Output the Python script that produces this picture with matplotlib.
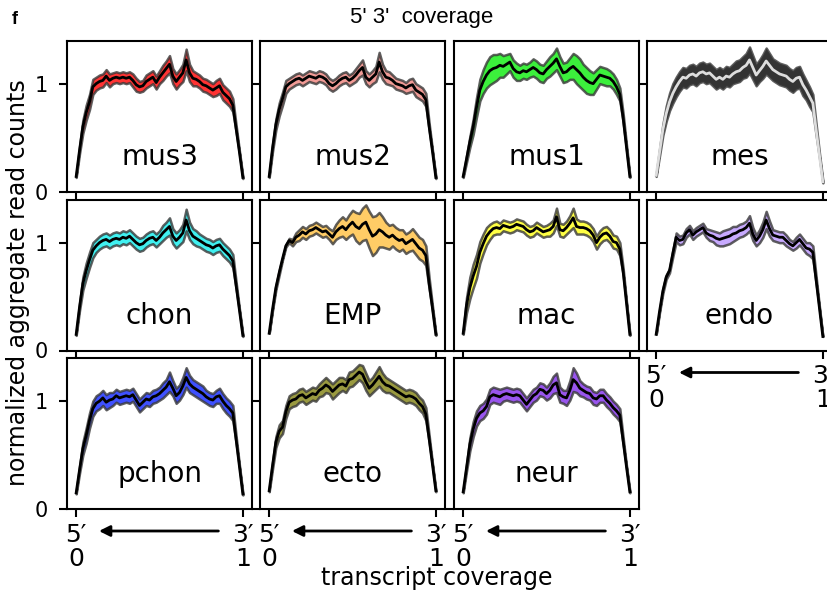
import numpy as np
import matplotlib.pyplot as plt

# gene body coverage, 51 bins from 5' (0) to 3' (1); mean and half width of band
bins = np.linspace(0, 1, 51)

mus3_mean = [0.14, 0.38, 0.60, 0.73, 0.83, 0.97, 1.00, 1.02, 1.03, 1.07,
             1.03, 1.05, 1.06, 1.05, 1.06, 1.05, 1.06, 1.03, 0.99, 0.97,
             0.98, 1.02, 1.04, 1.06, 1.01, 1.06, 1.10, 1.14, 1.18, 1.07,
             1.02, 1.06, 1.10, 1.22, 1.10, 1.05, 1.04, 1.02, 0.99, 0.98,
             0.96, 0.94, 0.96, 0.98, 0.92, 0.89, 0.86, 0.80, 0.58, 0.36, 0.13]
mus3_band = [0.01, 0.03, 0.06, 0.07, 0.07, 0.07, 0.06, 0.06, 0.06, 0.06,
             0.06, 0.05, 0.05, 0.05, 0.05, 0.05, 0.05, 0.06, 0.06, 0.05,
             0.05, 0.06, 0.06, 0.06, 0.06, 0.06, 0.07, 0.07, 0.08, 0.07,
             0.07, 0.07, 0.08, 0.10, 0.08, 0.07, 0.06, 0.06, 0.06, 0.06,
             0.06, 0.06, 0.07, 0.07, 0.07, 0.07, 0.07, 0.06, 0.03, 0.01, 0.01]

mus2_mean = [0.14, 0.40, 0.62, 0.76, 0.86, 0.97, 1.00, 1.02, 1.04, 1.05,
             1.03, 1.05, 1.07, 1.06, 1.05, 1.07, 1.06, 1.04, 1.00, 0.98,
             1.00, 1.03, 1.05, 1.06, 1.03, 1.05, 1.08, 1.12, 1.15, 1.06,
             1.03, 1.06, 1.09, 1.20, 1.11, 1.06, 1.05, 1.03, 1.00, 0.99,
             0.98, 0.96, 0.98, 0.99, 0.94, 0.92, 0.90, 0.85, 0.60, 0.37, 0.13]
mus2_band = [0.01, 0.03, 0.05, 0.06, 0.06, 0.06, 0.05, 0.05, 0.05, 0.05,
             0.05, 0.05, 0.05, 0.05, 0.05, 0.05, 0.05, 0.05, 0.05, 0.05,
             0.05, 0.05, 0.05, 0.05, 0.05, 0.05, 0.06, 0.06, 0.07, 0.06,
             0.06, 0.06, 0.07, 0.09, 0.07, 0.06, 0.06, 0.05, 0.05, 0.05,
             0.05, 0.05, 0.06, 0.06, 0.06, 0.06, 0.06, 0.06, 0.03, 0.01, 0.01]

mus1_mean = [0.14, 0.30, 0.46, 0.60, 0.78, 0.94, 1.02, 1.08, 1.12, 1.14,
             1.15, 1.17, 1.16, 1.18, 1.20, 1.14, 1.11, 1.10, 1.12, 1.11,
             1.13, 1.15, 1.13, 1.10, 1.09, 1.13, 1.16, 1.19, 1.23, 1.16,
             1.10, 1.11, 1.14, 1.16, 1.13, 1.10, 1.06, 1.03, 1.01, 1.00,
             1.04, 1.08, 1.07, 1.06, 1.05, 1.02, 0.97, 0.90, 0.68, 0.41, 0.14]
mus1_band = [0.01, 0.03, 0.05, 0.07, 0.09, 0.10, 0.11, 0.12, 0.13, 0.13,
             0.12, 0.11, 0.10, 0.09, 0.08, 0.08, 0.08, 0.07, 0.07, 0.07,
             0.07, 0.08, 0.08, 0.08, 0.08, 0.08, 0.09, 0.09, 0.10, 0.09,
             0.09, 0.09, 0.10, 0.12, 0.13, 0.13, 0.12, 0.12, 0.11, 0.10,
             0.09, 0.08, 0.08, 0.08, 0.07, 0.07, 0.07, 0.06, 0.04, 0.02, 0.01]

mes_mean = [0.15, 0.36, 0.57, 0.72, 0.83, 0.91, 0.97, 1.02, 1.06, 1.05,
            1.08, 1.09, 1.07, 1.10, 1.11, 1.09, 1.10, 1.07, 1.04, 1.06,
            1.04, 1.07, 1.06, 1.09, 1.11, 1.12, 1.15, 1.17, 1.22, 1.15,
            1.08, 1.12, 1.16, 1.21, 1.17, 1.13, 1.11, 1.09, 1.08, 1.07,
            1.04, 1.02, 1.05, 1.06, 0.99, 0.94, 0.88, 0.82, 0.57, 0.33, 0.09]
mes_band = [0.01, 0.03, 0.05, 0.07, 0.08, 0.09, 0.09, 0.09, 0.09, 0.09,
            0.09, 0.09, 0.09, 0.09, 0.09, 0.09, 0.09, 0.09, 0.09, 0.09,
            0.09, 0.09, 0.09, 0.09, 0.10, 0.10, 0.10, 0.11, 0.12, 0.11,
            0.10, 0.10, 0.11, 0.12, 0.11, 0.10, 0.10, 0.10, 0.10, 0.10,
            0.10, 0.10, 0.10, 0.10, 0.10, 0.09, 0.09, 0.08, 0.05, 0.02, 0.01]

chon_mean = [0.15, 0.40, 0.62, 0.74, 0.84, 0.93, 0.97, 1.00, 1.02, 1.03,
             1.01, 1.03, 1.04, 1.03, 1.05, 1.04, 1.06, 1.03, 1.00, 0.98,
             0.99, 1.02, 1.04, 1.05, 1.02, 1.05, 1.09, 1.12, 1.15, 1.06,
             1.02, 1.05, 1.09, 1.21, 1.11, 1.06, 1.04, 1.02, 1.00, 0.98,
             0.97, 0.95, 0.97, 0.98, 0.94, 0.91, 0.88, 0.83, 0.60, 0.37, 0.14]
chon_band = [0.01, 0.03, 0.06, 0.07, 0.07, 0.07, 0.06, 0.06, 0.06, 0.06,
             0.06, 0.06, 0.06, 0.06, 0.06, 0.06, 0.06, 0.06, 0.06, 0.06,
             0.06, 0.06, 0.06, 0.06, 0.06, 0.06, 0.07, 0.07, 0.08, 0.07,
             0.07, 0.07, 0.08, 0.10, 0.08, 0.07, 0.07, 0.06, 0.06, 0.06,
             0.06, 0.06, 0.06, 0.06, 0.06, 0.06, 0.06, 0.06, 0.03, 0.01, 0.01]

emp_mean = [0.16, 0.38, 0.58, 0.72, 0.85, 0.97, 1.02, 1.00, 1.05, 1.07,
            1.10, 1.08, 1.11, 1.12, 1.14, 1.12, 1.10, 1.11, 1.08, 1.05,
            1.10, 1.13, 1.15, 1.12, 1.16, 1.19, 1.15, 1.13, 1.17, 1.19,
            1.12, 1.06, 1.08, 1.12, 1.10, 1.07, 1.05, 1.07, 1.04, 1.02,
            1.03, 0.99, 1.01, 1.03, 0.99, 0.95, 0.93, 0.88, 0.62, 0.39, 0.15]
emp_band = [0.00, 0.01, 0.02, 0.02, 0.01, 0.01, 0.02, 0.03, 0.04, 0.05,
            0.05, 0.05, 0.05, 0.05, 0.05, 0.05, 0.05, 0.05, 0.05, 0.06,
            0.07, 0.08, 0.09, 0.09, 0.10, 0.11, 0.13, 0.14, 0.15, 0.16,
            0.17, 0.18, 0.17, 0.16, 0.14, 0.12, 0.11, 0.10, 0.10, 0.10,
            0.09, 0.09, 0.09, 0.10, 0.10, 0.10, 0.10, 0.09, 0.05, 0.02, 0.01]

mac_mean = [0.16, 0.42, 0.58, 0.69, 0.78, 0.91, 0.99, 1.06, 1.10, 1.13,
            1.14, 1.13, 1.16, 1.15, 1.14, 1.15, 1.17, 1.16, 1.15, 1.12,
            1.10, 1.11, 1.14, 1.12, 1.10, 1.11, 1.12, 1.15, 1.24, 1.12,
            1.11, 1.14, 1.18, 1.23, 1.15, 1.14, 1.14, 1.13, 1.11, 1.07,
            1.00, 1.05, 1.08, 1.09, 1.06, 1.01, 1.00, 0.94, 0.73, 0.44, 0.15]
mac_band = [0.01, 0.07, 0.10, 0.11, 0.11, 0.10, 0.09, 0.08, 0.07, 0.06,
            0.06, 0.05, 0.05, 0.05, 0.05, 0.05, 0.05, 0.05, 0.05, 0.05,
            0.05, 0.05, 0.05, 0.05, 0.05, 0.05, 0.06, 0.06, 0.08, 0.06,
            0.06, 0.06, 0.07, 0.09, 0.07, 0.06, 0.06, 0.06, 0.06, 0.06,
            0.06, 0.06, 0.06, 0.06, 0.06, 0.06, 0.06, 0.06, 0.03, 0.01, 0.01]

endo_mean = [0.15, 0.36, 0.55, 0.68, 0.74, 0.90, 1.05, 1.02, 1.03, 1.09,
             1.12, 1.07, 1.10, 1.12, 1.14, 1.09, 1.07, 1.06, 1.04, 1.03,
             1.04, 1.05, 1.06, 1.08, 1.09, 1.11, 1.12, 1.14, 1.18, 1.08,
             1.02, 1.06, 1.12, 1.21, 1.13, 1.07, 1.06, 1.05, 1.05, 1.02,
             0.99, 0.97, 1.00, 1.03, 0.99, 0.95, 0.94, 0.91, 0.65, 0.39, 0.13]
endo_band = [0.00, 0.01, 0.02, 0.02, 0.02, 0.03, 0.04, 0.04, 0.04, 0.04,
             0.04, 0.04, 0.04, 0.04, 0.04, 0.04, 0.05, 0.05, 0.06, 0.06,
             0.07, 0.07, 0.07, 0.07, 0.06, 0.06, 0.06, 0.06, 0.07, 0.06,
             0.05, 0.06, 0.07, 0.08, 0.07, 0.05, 0.05, 0.05, 0.05, 0.05,
             0.04, 0.04, 0.05, 0.05, 0.05, 0.05, 0.06, 0.06, 0.03, 0.01, 0.00]

pchon_mean = [0.15, 0.36, 0.56, 0.68, 0.82, 0.93, 0.98, 1.00, 1.03, 0.99,
              1.01, 1.02, 1.05, 1.03, 1.04, 1.05, 1.04, 1.06, 1.01, 0.96,
              0.99, 1.02, 1.01, 1.04, 1.05, 1.07, 1.10, 1.13, 1.18, 1.12,
              1.05, 1.08, 1.14, 1.22, 1.16, 1.13, 1.11, 1.09, 1.07, 1.04,
              1.02, 1.01, 1.04, 1.05, 1.00, 0.96, 0.93, 0.89, 0.64, 0.39, 0.14]
pchon_band = [0.01, 0.03, 0.06, 0.07, 0.07, 0.07, 0.07, 0.07, 0.07, 0.07,
              0.07, 0.06, 0.06, 0.06, 0.06, 0.06, 0.06, 0.06, 0.06, 0.06,
              0.06, 0.06, 0.06, 0.06, 0.06, 0.06, 0.07, 0.07, 0.09, 0.07,
              0.07, 0.07, 0.08, 0.09, 0.08, 0.07, 0.07, 0.07, 0.07, 0.06,
              0.06, 0.06, 0.06, 0.07, 0.07, 0.07, 0.07, 0.07, 0.03, 0.01, 0.01]

ecto_mean = [0.17, 0.40, 0.62, 0.72, 0.76, 0.90, 0.99, 1.01, 1.02, 1.05,
             1.06, 1.03, 1.05, 1.07, 1.06, 1.10, 1.12, 1.15, 1.13, 1.09,
             1.12, 1.15, 1.16, 1.14, 1.20, 1.21, 1.24, 1.27, 1.25, 1.18,
             1.12, 1.15, 1.19, 1.23, 1.18, 1.15, 1.14, 1.12, 1.10, 1.08,
             1.06, 1.04, 1.05, 1.04, 1.02, 0.98, 0.95, 0.88, 0.65, 0.41, 0.17]
ecto_band = [0.01, 0.03, 0.05, 0.06, 0.06, 0.06, 0.06, 0.06, 0.06, 0.06,
             0.06, 0.06, 0.06, 0.06, 0.06, 0.06, 0.07, 0.07, 0.06, 0.07,
             0.07, 0.07, 0.06, 0.06, 0.07, 0.07, 0.07, 0.07, 0.08, 0.08,
             0.07, 0.07, 0.08, 0.09, 0.08, 0.07, 0.06, 0.06, 0.06, 0.06,
             0.06, 0.06, 0.06, 0.06, 0.06, 0.06, 0.06, 0.06, 0.03, 0.01, 0.01]

neur_mean = [0.16, 0.38, 0.60, 0.74, 0.84, 0.89, 0.91, 0.95, 1.04, 1.06,
             1.05, 1.04, 1.06, 1.07, 1.06, 1.05, 1.06, 1.05, 1.01, 0.97,
             1.01, 1.05, 1.07, 1.11, 1.10, 1.07, 1.10, 1.15, 1.17, 1.06,
             1.04, 1.03, 1.10, 1.20, 1.17, 1.12, 1.10, 1.08, 1.07, 1.03,
             1.02, 1.05, 1.05, 1.01, 0.98, 0.94, 0.91, 0.87, 0.63, 0.39, 0.16]
neur_band = [0.01, 0.03, 0.06, 0.07, 0.07, 0.07, 0.07, 0.07, 0.07, 0.07,
             0.07, 0.07, 0.06, 0.06, 0.06, 0.06, 0.06, 0.06, 0.06, 0.06,
             0.06, 0.06, 0.06, 0.06, 0.06, 0.06, 0.07, 0.08, 0.09, 0.07,
             0.06, 0.07, 0.09, 0.11, 0.09, 0.07, 0.06, 0.06, 0.06, 0.06,
             0.06, 0.06, 0.06, 0.06, 0.06, 0.06, 0.06, 0.06, 0.03, 0.01, 0.01]

names = ['mus3', 'mus2', 'mus1', 'mes', 'chon', 'EMP', 'mac', 'endo', 'pchon', 'ecto', 'neur']
means = [mus3_mean, mus2_mean, mus1_mean, mes_mean, chon_mean, emp_mean,
         mac_mean, endo_mean, pchon_mean, ecto_mean, neur_mean]
bands = [mus3_band, mus2_band, mus1_band, mes_band, chon_band, emp_band,
         mac_band, endo_band, pchon_band, ecto_band, neur_band]
fill_colors = ['#ff3333', '#f29b96', '#3cf03c', '#333333', '#40f0f0', '#ffcc66',
               '#ffff44', '#c8aaff', '#3f51ff', '#9a9a40', '#9955ee']
line_colors = ['k', 'k', 'k', '#dddddd', 'k', 'k', 'k', 'k', 'k', 'k', 'k']
# panels that carry x tick labels (bottom of each column)
labelled = ['endo', 'pchon', 'ecto', 'neur']

W, H = 828, 593
fig = plt.figure(figsize=(W / 100, H / 100), dpi=100)

col_left = [67, 260, 454, 647]
row_top = [40.5, 199.5, 358]
pw, ph = 185, 151

for i, name in enumerate(names):
    r, c = divmod(i, 4)
    ax = fig.add_axes([col_left[c] / W, 1 - (row_top[r] + ph) / H, pw / W, ph / H])
    m = np.array(means[i])
    b = np.array(bands[i])
    ax.fill_between(bins, m - b, m + b, facecolor=fill_colors[i],
                    edgecolor=(0.22, 0.22, 0.22, 0.8), lw=1.8, zorder=2)
    ax.plot(bins, m, color=line_colors[i], lw=2.0, zorder=3)
    ax.set_xlim(-0.055, 1.055)
    ax.set_ylim(0, 1.4)
    ax.set_xticks([0, 1])
    ax.set_yticks([0, 1])
    for s in ax.spines.values():
        s.set_linewidth(1.5)
    ax.tick_params(direction='out', length=6, width=1.5)
    ax.tick_params(axis='y', labelsize=15, pad=8)
    if c == 0:
        ax.set_yticklabels(['0', '1'])
    else:
        ax.set_yticklabels([])
    if name in labelled:
        ax.set_xticklabels(['5\u2032\n0', '3\u2032\n1'], fontsize=18, linespacing=1.0)
        ax.tick_params(axis='x', pad=4)
        ax.annotate('', xy=(0.12, -22 / ph), xytext=(0.87, -22 / ph),
                    xycoords=ax.get_xaxis_transform(), annotation_clip=False,
                    arrowprops=dict(arrowstyle='-|>', color='k', lw=2, mutation_scale=16))
    else:
        ax.set_xticklabels([])
    ax.text(0.5, 0.177, name, transform=ax.transAxes, ha='center', va='baseline', fontsize=20)

fig.text(422 / W, 1 - 17 / H, "5' 3'  coverage", ha='center', va='center',
         fontsize=16, family='Liberation Sans')
fig.text(12 / W, 1 - 20 / H, 'f', ha='left', va='center', fontsize=13,
         fontweight='bold', family='Liberation Sans')
fig.text(18 / W, 1 - 283 / H, 'normalized aggregate read counts', rotation=90,
         ha='center', va='center', fontsize=17)
fig.text(437 / W, 1 - 578 / H, 'transcript coverage', ha='center', va='center', fontsize=17)

fig.savefig('out.png', dpi=100)
